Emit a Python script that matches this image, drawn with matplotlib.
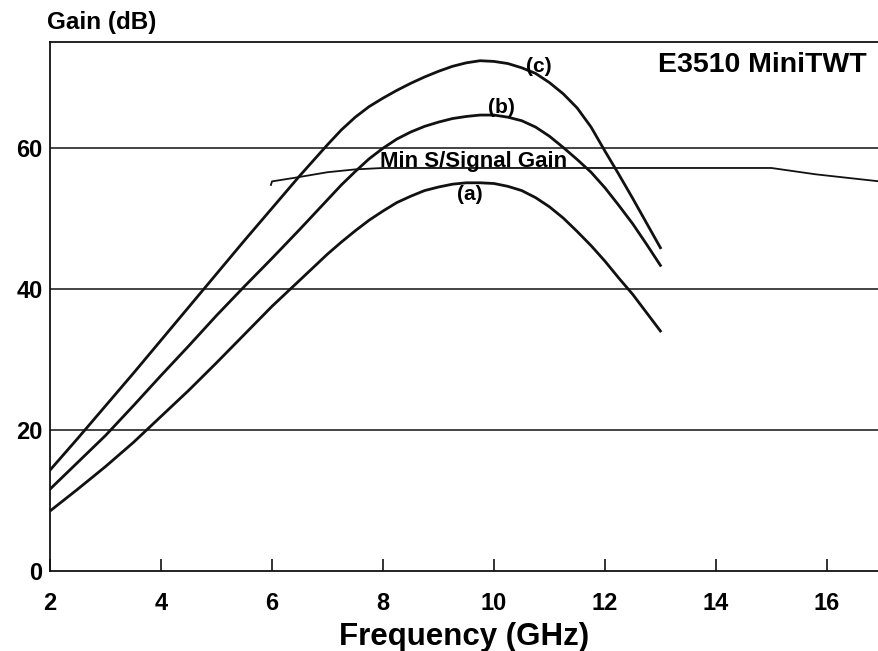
import matplotlib.pyplot as plt

plt.rcParams["font.family"] = ["Liberation Sans", "DejaVu Sans"]

# frequency grid (GHz) for the three gain curves
freq = [2, 2.5, 3, 3.5, 4, 4.5, 5, 5.5, 6, 6.5,
        7, 7.25, 7.5, 7.75, 8, 8.25, 8.5, 8.75, 9, 9.25, 9.5, 9.75,
        10, 10.25, 10.5, 10.75, 11, 11.25, 11.5, 11.75, 12, 12.25, 12.5, 12.75, 13]
gain_a = [8.5, 11.6, 14.8, 18.2, 21.9, 25.6, 29.5, 33.5, 37.5, 41.2,
          44.9, 46.6, 48.2, 49.7, 51.0, 52.2, 53.1, 53.9, 54.4, 54.8, 55.0, 55.0,
          54.9, 54.5, 53.9, 52.9, 51.6, 50.0, 48.1, 46.1, 43.9, 41.5, 39.2, 36.6, 34.0]
gain_b = [11.6, 15.4, 19.2, 23.4, 27.7, 31.9, 36.2, 40.3, 44.3, 48.4,
          52.6, 54.7, 56.6, 58.4, 59.9, 61.2, 62.2, 63.0, 63.6, 64.1, 64.4, 64.6,
          64.6, 64.3, 63.8, 62.9, 61.6, 60.0, 58.3, 56.5, 54.3, 51.8, 49.2, 46.3, 43.3]
gain_c = [14.3, 18.8, 23.4, 28.0, 32.7, 37.4, 42.1, 46.8, 51.4, 56.0,
          60.4, 62.5, 64.3, 65.8, 67.0, 68.1, 69.1, 70.0, 70.8, 71.5, 72.0, 72.3,
          72.2, 71.9, 71.3, 70.5, 69.2, 67.6, 65.6, 62.9, 59.5, 56.2, 52.8, 49.3, 45.8]

# minimum small-signal gain spec
spec_f = [5.98, 6.0, 6.4, 7.0, 7.5, 8.0, 15.0, 15.8, 16.95]
spec_g = [54.7, 55.2, 55.7, 56.5, 56.9, 57.1, 57.1, 56.2, 55.2]

xticks = [2, 4, 6, 8, 10, 12, 14, 16]
yticks = [0, 20, 40, 60]

ink = "#111111"

fig = plt.figure(figsize=(8.79, 6.51), dpi=100)
ax = fig.add_axes([0.057, 0.123, 0.943, 0.813])

for y in yticks[1:]:
    ax.axhline(y, color=ink, lw=1.1, zorder=1)

for g in (gain_a, gain_b, gain_c):
    ax.plot(freq, g, color=ink, lw=2.0, zorder=2)
ax.plot(spec_f, spec_g, color=ink, lw=1.3, zorder=2)

ax.text(10.8, 71.5, "(c)", fontsize=15, fontweight="bold", ha="center", va="center")
ax.text(10.14, 65.6, "(b)", fontsize=15, fontweight="bold", ha="center", va="center")
ax.text(9.57, 53.4, "(a)", fontsize=15, fontweight="bold", ha="center", va="center")
ax.text(9.63, 57.3, "Min S/Signal Gain", fontsize=16, fontweight="bold",
        ha="center", va="baseline")
ax.text(16.72, 71.7, "E3510 MiniTWT", fontsize=20.5, fontweight="bold",
        ha="right", va="center")

ax.set_xlim(2, 16.94)
ax.set_ylim(0, 75)
ax.set_xticks(xticks)
ax.set_yticks(yticks)
ax.tick_params(axis="x", direction="in", length=9, width=1.2, color=ink,
               labelsize=17, pad=15)
ax.tick_params(axis="y", length=0, labelsize=17, pad=5.5)
for lab in ax.get_xticklabels() + ax.get_yticklabels():
    lab.set_fontweight("bold")

ax.spines["right"].set_visible(False)
for s in ("left", "bottom", "top"):
    ax.spines[s].set_color(ink)
    ax.spines[s].set_linewidth(1.3)

ax.set_xlabel("Frequency (GHz)", fontsize=22.5, fontweight="bold", labelpad=5)
fig.text(0.0535, 0.966, "Gain (dB)", fontsize=17.5, fontweight="bold",
         ha="left", va="center")

fig.savefig("out.png", dpi=100)
